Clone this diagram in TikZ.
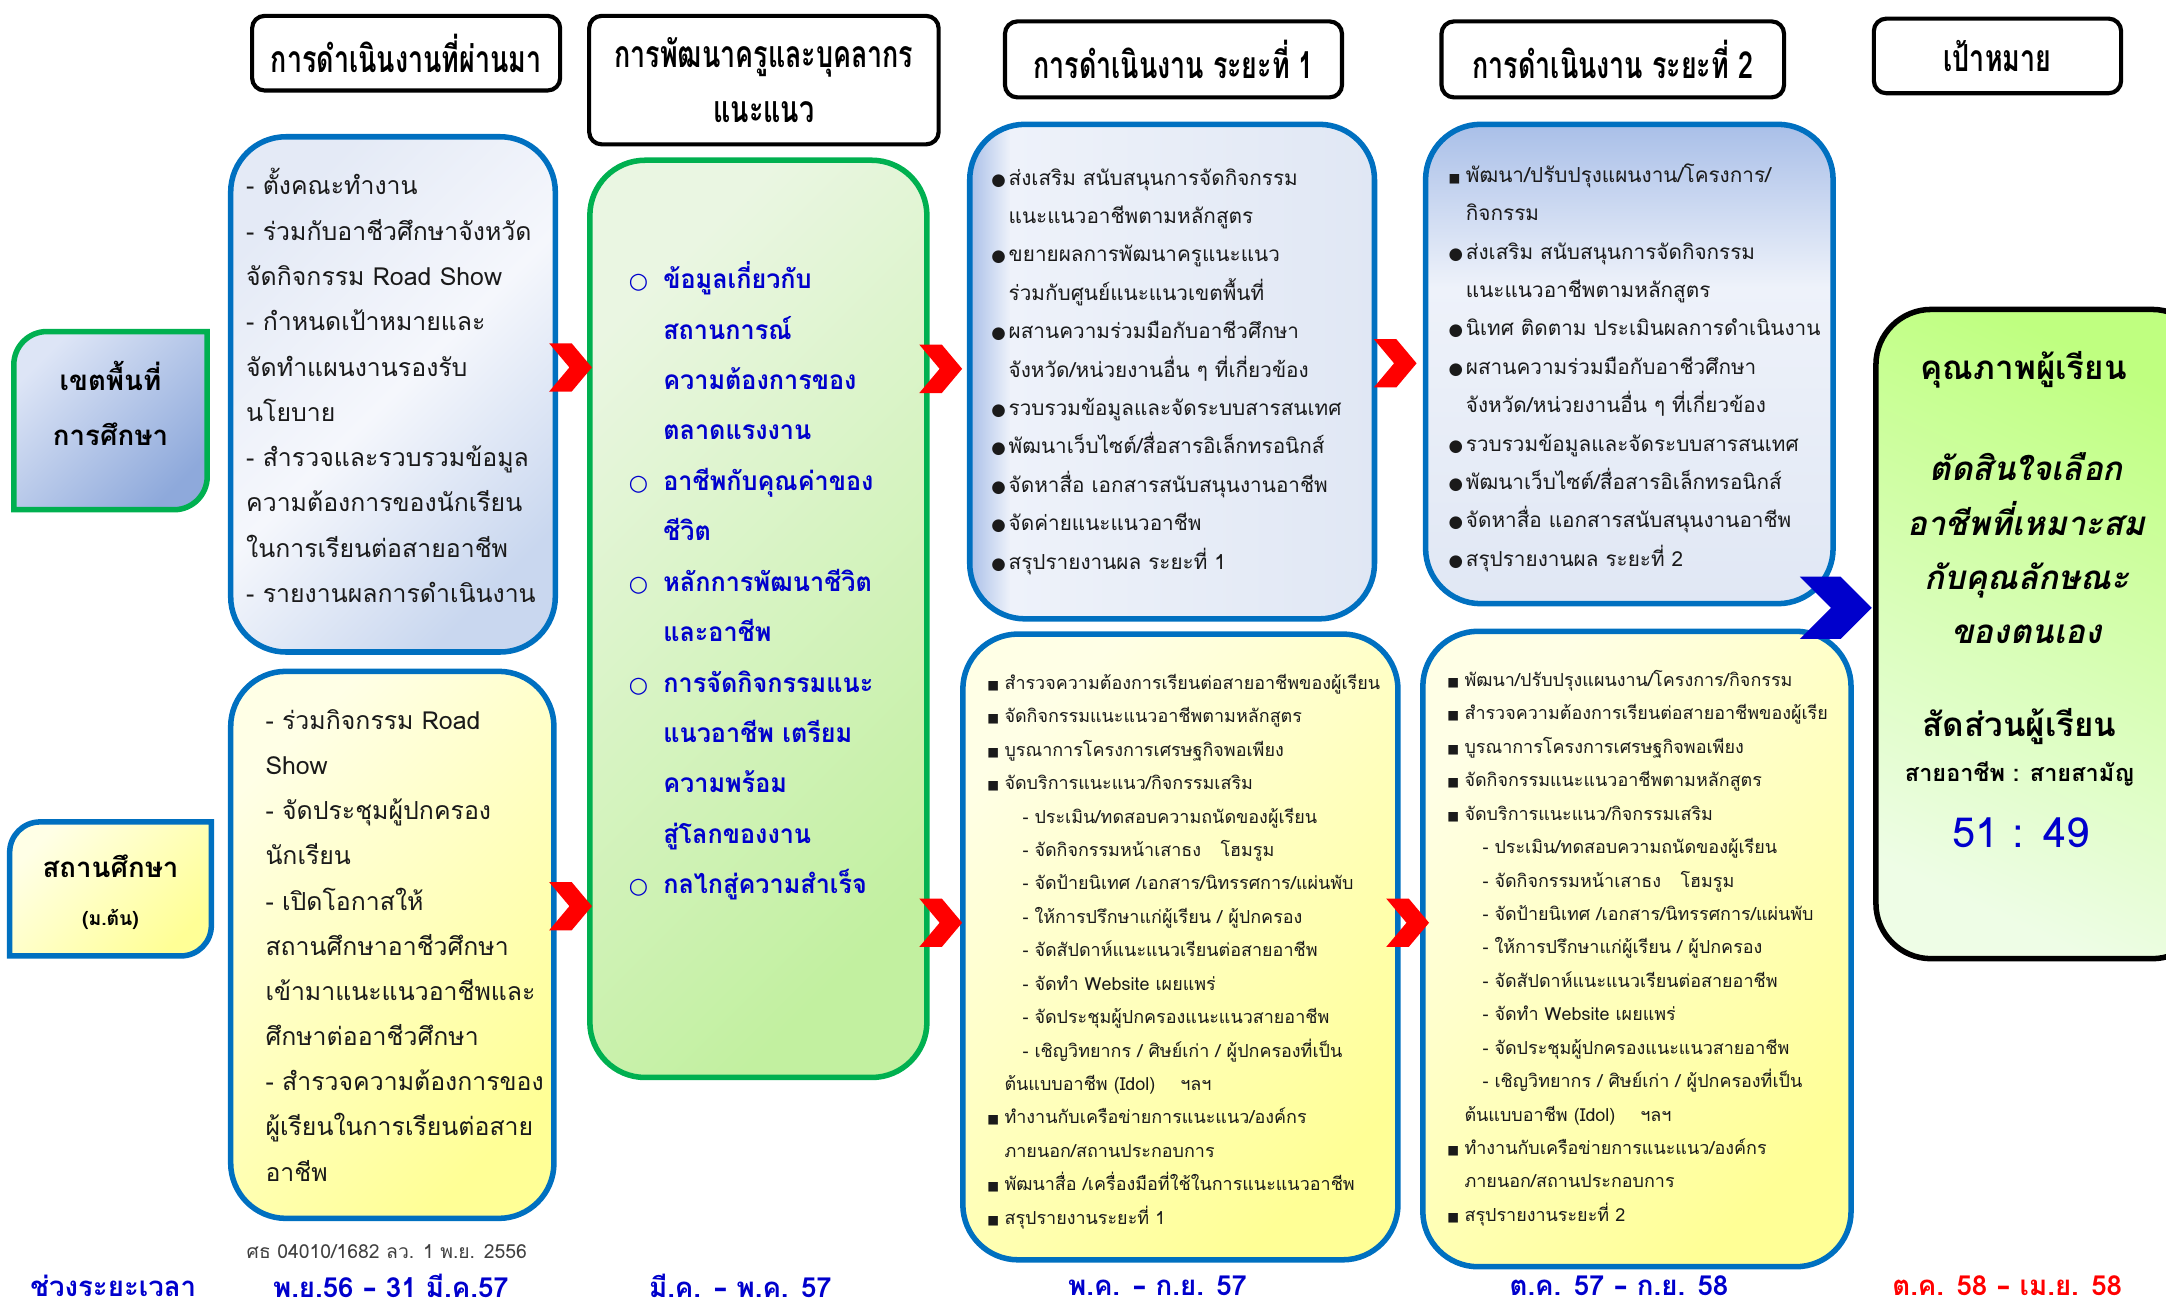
\documentclass[tikz,border=0pt]{standalone}
\usepackage{fontspec}
\setmainfont[Script=Thai]{Loma}
\newfontfamily\headf[Script=Thai,FakeStretch=0.72]{Loma}
\newfontfamily\widef[Script=Thai,FakeStretch=0.96]{Loma}
\newfontfamily\symf{DejaVu Sans}
\usetikzlibrary{shapes.symbols,calc}

\definecolor{boxblue}{HTML}{0070C0}
\definecolor{boxgreen}{HTML}{00B050}
\definecolor{txtblue}{HTML}{0000CC}
\definecolor{arrred}{HTML}{FF0000}
\definecolor{bodytxt}{HTML}{1A1A1A}
\definecolor{notegray}{HTML}{404040}
\definecolor{ylwA}{HTML}{FFFFE6}
\definecolor{ylwB}{HTML}{FFFF96}
\definecolor{pastA}{HTML}{E4EAF6}
\definecolor{pastM}{HTML}{F5F7FC}
\definecolor{pastB}{HTML}{C9D7EF}
\definecolor{zoneA}{HTML}{DDE5F6}
\definecolor{zoneB}{HTML}{8EA9DB}
\definecolor{grnA}{HTML}{EAF6E2}
\definecolor{grnB}{HTML}{C2F0A0}
\definecolor{phL}{HTML}{A9BFE8}
\definecolor{phM}{HTML}{EEF2FA}
\definecolor{phR}{HTML}{E0E7F4}
\definecolor{goalA}{HTML}{BFFF80}
\definecolor{goalB}{HTML}{EEFDE6}

\pgfdeclarehorizontalshading{phaseone}{100bp}{color(0bp)=(phL); color(25bp)=(phL); color(30bp)=(phM); color(75bp)=(phR); color(100bp)=(phR)}
\pgfdeclareverticalshading{phasetwo}{100bp}{color(0bp)=(phR); color(25bp)=(phR); color(58bp)=(phM); color(75bp)=(phL); color(100bp)=(phL)}

\newcommand\fA{\fontsize{18}{18}\selectfont}
\newcommand\fB{\widef\bfseries\fontsize{19}{19}\selectfont}
\newcommand\fC{\fontsize{15}{15}\selectfont}
\newcommand\fD{\fontsize{13}{13}\selectfont}
\newcommand\bdot{\llap{{\symf\fontsize{12}{12}\selectfont ●}\hspace{2pt}}}
\newcommand\bsq{\llap{{\symf\fontsize{9}{9}\selectfont ■}\hspace{4pt}}}
\newcommand\bcirc{\llap{{\symf\fontsize{16}{16}\selectfont ○}\hspace{11pt}}}
\newcommand\subind{\hspace*{13pt}}
\newcommand\dash{{\symf –}}

\tikzset{
  headbox/.style={anchor=north west,draw=black,line width=3pt,rounded corners=9pt,fill=white,
    inner sep=2pt,font=\headf\bfseries\fontsize{27}{40}\selectfont},
  panel/.style={anchor=north west,line width=4pt,rounded corners=40pt,inner sep=0pt},
  bluebox/.style={draw=boxblue,top color=pastA,bottom color=pastB,middle color=pastM,shading angle=45},
  yelbox/.style={draw=boxblue,top color=ylwA,bottom color=ylwB,shading angle=45},
  grnbox/.style={draw=boxgreen,top color=grnA,bottom color=grnB,shading angle=45},
  ph1box/.style={draw=boxblue,shade,shading=phaseone},
  ph2box/.style={draw=boxblue,shade,shading=phasetwo},
  goalbox/.style={draw=black,top color=goalA,bottom color=goalB,shading angle=-25},
  bodytext/.style={anchor=base west,inner sep=0pt,text=bodytxt},
  chev/.style={signal,signal from=west,signal to=east,fill=arrred,draw=none,inner sep=0pt,
    minimum width=31pt,minimum height=35pt,signal pointer angle=100},
  timef/.style={inner sep=0pt,text=txtblue,font=\bfseries\fontsize{20}{20}\selectfont}
}

\newcommand\boxlines[6]{%
  \foreach \t [count=\i from 0] in {#6}
    \node[bodytext,font=#5] (#1-\i) at (#2,#3+#4*\i) {\t};}

\begin{document}
\begin{tikzpicture}[x=1pt,y=-1pt]
\useasboundingbox (0,0) rectangle (1568,949);

% headers
\node[headbox,minimum width=223pt,minimum height=54pt] (hPast) at (181,10) {การดำเนินงานที่ผ่านมา};
\node[headbox,minimum width=253pt,minimum height=93pt,align=center] (hTrain) at (425,10) {การพัฒนาครูและบุคลากร\\แนะแนว};
\node[headbox,minimum width=244pt,minimum height=55pt] (hPh1) at (726,14) {การดำเนินงาน ระยะที่ 1};
\node[headbox,minimum width=248pt,minimum height=55pt] (hPh2) at (1042,14) {การดำเนินงาน ระยะที่ 2};
\node[headbox,minimum width=179pt,minimum height=54pt] (hGoal) at (1355,12) {เป้าหมาย};

% row labels
\path[draw=boxgreen,line width=4pt,top color=zoneA,bottom color=zoneB,shading angle=45]
  (10,369) -- (10,264) arc[start angle=180,end angle=90,radius=24pt] -- (150,240)
  -- (150,345) arc[start angle=0,end angle=-90,radius=24pt] -- cycle;
\node[font=\bfseries\fontsize{20}{40}\selectfont,align=center] (zone) at (80,292) {เขตพื้นที่\\การศึกษา};
\path[draw=boxblue,line width=4pt,top color=ylwA,bottom color=ylwB,shading angle=45]
  (7,692) -- (7,617) arc[start angle=180,end angle=90,radius=22pt] -- (153,595)
  -- (153,670) arc[start angle=0,end angle=-90,radius=22pt] -- cycle;
\node[font=\bfseries\fontsize{20}{35}\selectfont,align=center] (school) at (80,646) {สถานศึกษา\\{\fontsize{14}{14}\selectfont(ม.ต้น)}};

% panels
\node[panel,bluebox,minimum width=235pt,minimum height=373pt] (past1) at (165,97) {};
\node[panel,yelbox,minimum width=234pt,minimum height=396pt] (past2) at (165,484) {};
\node[panel,grnbox,minimum width=244pt,minimum height=664pt] (train) at (425,114) {};
\node[panel,ph1box,minimum width=293pt,minimum height=358pt] (ph1a) at (700,88) {};
\node[panel,yelbox,minimum width=315pt,minimum height=453pt] (ph1b) at (695,457) {};
\node[panel,ph2box,minimum width=295pt,minimum height=347pt] (ph2a) at (1030,88) {};
\node[panel,yelbox,minimum width=310pt,minimum height=460pt] (ph2b) at (1028,455) {};
\node[panel,goalbox,minimum width=240pt,minimum height=470pt] (goal) at (1356,222) {};

% texts
\boxlines{p1}{178}{141}{32.8}{\fA}{- ตั้งคณะทำงาน,- ร่วมกับอาชีวศึกษาจังหวัด,จัดกิจกรรม Road Show,- กำหนดเป้าหมายและ,จัดทำแผนงานรองรับ,นโยบาย,- สำรวจและรวบรวมข้อมูล,ความต้องการของนักเรียน,ในการเรียนต่อสายอาชีพ,- รายงานผลการดำเนินงาน}
\boxlines{p2}{192}{528}{32.7}{\fA}{- ร่วมกิจกรรม Road,Show,- จัดประชุมผู้ปกครอง,นักเรียน,- เปิดโอกาสให้,สถานศึกษาอาชีวศึกษา,เข้ามาแนะแนวอาชีพและ,ศึกษาต่ออาชีวศึกษา,- สำรวจความต้องการของ,ผู้เรียนในการเรียนต่อสาย,อาชีพ}
\begin{scope}[bodytext/.append style={text=txtblue}]
\boxlines{tr}{480}{209}{36.5}{\fB}{\bcirc ข้อมูลเกี่ยวกับ,สถานการณ์,ความต้องการของ,ตลาดแรงงาน,\bcirc อาชีพกับคุณค่าของ,ชีวิต,\bcirc หลักการพัฒนาชีวิต,และอาชีพ,\bcirc การจัดกิจกรรมแนะ,แนวอาชีพ เตรียม,ความพร้อม,สู่โลกของงาน,\bcirc กลไกสู่ความสำเร็จ}
\end{scope}
\boxlines{a1}{730}{134}{27.8}{\fC}{\bdot ส่งเสริม สนับสนุนการจัดกิจกรรม,แนะแนวอาชีพตามหลักสูตร,\bdot ขยายผลการพัฒนาครูแนะแนว,ร่วมกับศูนย์แนะแนวเขตพื้นที่,\bdot ผสานความร่วมมือกับอาชีวศึกษา,จังหวัด/หน่วยงานอื่น ๆ ที่เกี่ยวข้อง,\bdot รวบรวมข้อมูลและจัดระบบสารสนเทศ,\bdot พัฒนาเว็บไซต์/สื่อสารอิเล็กทรอนิกส์,\bdot จัดหาสื่อ เอกสารสนับสนุนงานอาชีพ,\bdot จัดค่ายแนะแนวอาชีพ,\bdot สรุปรายงานผล ระยะที่ 1}
\boxlines{b1}{727}{499}{24.2}{\fD}{\bsq สำรวจความต้องการเรียนต่อสายอาชีพของผู้เรียน,\bsq จัดกิจกรรมแนะแนวอาชีพตามหลักสูตร,\bsq บูรณาการโครงการเศรษฐกิจพอเพียง,\bsq จัดบริการแนะแนว/กิจกรรมเสริม,\subind- ประเมิน/ทดสอบความถนัดของผู้เรียน,\subind- จัดกิจกรรมหน้าเสาธง\hspace{14pt}โฮมรูม,\subind- จัดป้ายนิเทศ /เอกสาร/นิทรรศการ/แผ่นพับ,\subind- ให้การปรึกษาแก่ผู้เรียน / ผู้ปกครอง,\subind- จัดสัปดาห์แนะแนวเรียนต่อสายอาชีพ,\subind- จัดทำ Website เผยแพร่,\subind- จัดประชุมผู้ปกครองแนะแนวสายอาชีพ,\subind- เชิญวิทยากร / ศิษย์เก่า / ผู้ปกครองที่เป็น,ต้นแบบอาชีพ (Idol)\hspace{18pt}ฯลฯ,\bsq ทำงานกับเครือข่ายการแนะแนว/องค์กร,ภายนอก/สถานประกอบการ,\bsq พัฒนาสื่อ /เครื่องมือที่ใช้ในการแนะแนวอาชีพ,\bsq สรุปรายงานระยะที่ 1}
\boxlines{a2}{1061}{132}{27.8}{\fC}{\bsq พัฒนา/ปรับปรุงแผนงาน/โครงการ/,กิจกรรม,\bdot ส่งเสริม สนับสนุนการจัดกิจกรรม,แนะแนวอาชีพตามหลักสูตร,\bdot นิเทศ ติดตาม ประเมินผลการดำเนินงาน,\bdot ผสานความร่วมมือกับอาชีวศึกษา,จังหวัด/หน่วยงานอื่น ๆ ที่เกี่ยวข้อง,\bdot รวบรวมข้อมูลและจัดระบบสารสนเทศ,\bdot พัฒนาเว็บไซต์/สื่อสารอิเล็กทรอนิกส์,\bdot จัดหาสื่อ แอกสารสนับสนุนงานอาชีพ,\bdot สรุปรายงานผล ระยะที่ 2}
\boxlines{b2}{1060}{497}{24.2}{\fD}{\bsq พัฒนา/ปรับปรุงแผนงาน/โครงการ/กิจกรรม,\bsq สำรวจความต้องการเรียนต่อสายอาชีพของผู้เรีย,\bsq บูรณาการโครงการเศรษฐกิจพอเพียง,\bsq จัดกิจกรรมแนะแนวอาชีพตามหลักสูตร,\bsq จัดบริการแนะแนว/กิจกรรมเสริม,\subind- ประเมิน/ทดสอบความถนัดของผู้เรียน,\subind- จัดกิจกรรมหน้าเสาธง\hspace{14pt}โฮมรูม,\subind- จัดป้ายนิเทศ /เอกสาร/นิทรรศการ/แผ่นพับ,\subind- ให้การปรึกษาแก่ผู้เรียน / ผู้ปกครอง,\subind- จัดสัปดาห์แนะแนวเรียนต่อสายอาชีพ,\subind- จัดทำ Website เผยแพร่,\subind- จัดประชุมผู้ปกครองแนะแนวสายอาชีพ,\subind- เชิญวิทยากร / ศิษย์เก่า / ผู้ปกครองที่เป็น,ต้นแบบอาชีพ (Idol)\hspace{18pt}ฯลฯ,\bsq ทำงานกับเครือข่ายการแนะแนว/องค์กร,ภายนอก/สถานประกอบการ,\bsq สรุปรายงานระยะที่ 2}

% goal
\node[font=\bfseries\fontsize{24}{24}\selectfont] (g1) at (1465,268) {คุณภาพผู้เรียน};
\node[font=\bfseries\itshape\fontsize{24}{39.3}\selectfont,align=center] (g2) at (1467,397) {ตัดสินใจเลือก\\อาชีพที่เหมาะสม\\กับคุณลักษณะ\\ของตนเอง};
\node[font=\bfseries\fontsize{24}{24}\selectfont] (g3) at (1462,526) {สัดส่วนผู้เรียน};
\node[font=\bfseries\fontsize{17}{17}\selectfont] (g4) at (1462,560) {สายอาชีพ : สายสามัญ};
\node[font=\fontsize{30}{30}\selectfont,text=txtblue] (g5) at (1463,603) {51 : 49};

% chevrons
\node[chev] (ch1) at (413,266) {};
\node[chev] (ch2) at (413,656) {};
\node[chev] (ch3) at (681,267) {};
\node[chev] (ch4) at (681,668) {};
\node[chev] (ch5) at (1010,263) {};
\node[chev] (ch6) at (1019,668) {};
\node[chev,fill=txtblue,minimum width=52pt,minimum height=45pt,signal pointer angle=90] (ch7) at (1329,440) {};

% note and time line
\node[text=notegray,font=\fontsize{14}{14}\selectfont] (note) at (280,906) {ศธ 04010/1682 ลว. 1 พ.ย. 2556};
\node[timef] (tLabel) at (82,931) {ช่วงระยะเวลา};
\node[timef] (t1) at (283,931) {พ.ย.56 \dash{} 31 มี.ค.57};
\node[timef] (t2) at (536,931) {มี.ค. \dash{} พ.ค. 57};
\node[timef] (t3) at (838,931) {พ.ค. \dash{} ก.ย. 57};
\node[timef] (t4) at (1172,931) {ต.ค. 57 \dash{} ก.ย. 58};
\node[timef,text=arrred] (t5) at (1453,931) {ต.ค. 58 \dash{} เม.ย. 58};
\end{tikzpicture}
\end{document}
